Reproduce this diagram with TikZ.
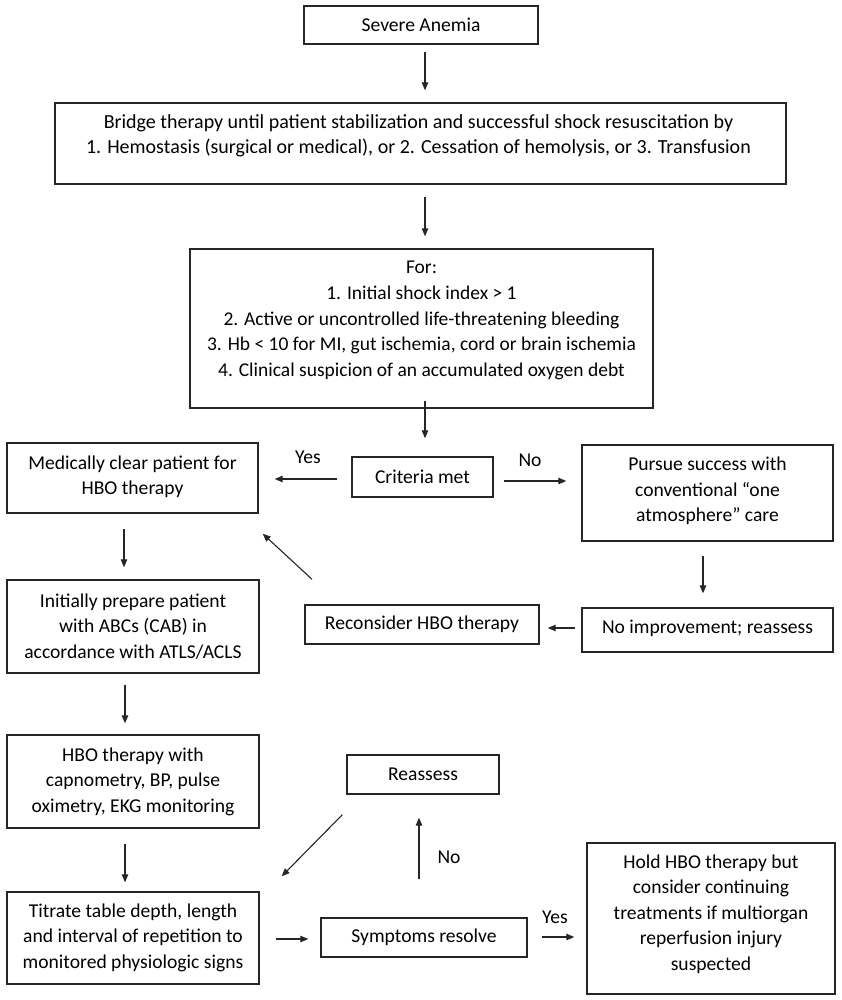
\documentclass[tikz,border=0pt]{standalone}
\usepackage{fontspec}
\setmainfont{Carlito}
\usetikzlibrary{arrows.meta,calc}
\begin{document}
\begin{tikzpicture}[x=1pt,y=-1pt,
  box/.style={draw=black!85, line width=1.4pt, inner sep=0pt, align=center},
  txt/.style={inner sep=0pt, align=center, font=\fontsize{19.6}{25.5}\selectfont},
  bigtxt/.style={inner sep=0pt, align=center, font=\fontsize{20}{25.2}\selectfont},
  fortxt/.style={inner sep=0pt, align=center, font=\fontsize{19.5}{25.7}\selectfont},
  lbl/.style={inner sep=0pt, font=\fontsize{19.6}{25.5}\selectfont},
  arr/.style={draw=black!85, line width=1.1pt, -{Triangle[length=8pt,width=6.5pt]}}]
\useasboundingbox[fill=white] (0,0) rectangle (841,1000);

% boxes
\node[box, minimum width=234pt, minimum height=38pt] (sev) at (421,25) {};
\node[txt] (sevt) at (sev) {Severe Anemia};

\node[box, minimum width=731pt, minimum height=81pt] (bridge) at (420.5,143.5) {};
\node[bigtxt] (bridget) at ($(bridge)+(-2,-8)$) {Bridge therapy until patient stabilization and successful shock resuscitation by\\1. Hemostasis (surgical or medical), or 2. Cessation of hemolysis, or 3. Transfusion};

\node[box, minimum width=463pt, minimum height=159pt] (forb) at (421.5,328.5) {};
\node[fortxt] (fort) at ($(forb)+(0,-8)$) {For:\\1. Initial shock index > 1\\2. Active or uncontrolled life-threatening bleeding\\3. Hb < 10 for MI, gut ischemia, cord or brain ischemia\\4. Clinical suspicion of an accumulated oxygen debt};

\node[box, minimum width=141pt, minimum height=40pt] (crit) at (422.5,477) {};
\node[txt] (critt) at (crit) {Criteria met};

\node[box, minimum width=251pt, minimum height=70pt] (med) at (132.5,478) {};
\node[txt] (medt) at ($(med)+(0,-1)$) {Medically clear patient for\\HBO therapy};

\node[box, minimum width=251pt, minimum height=96pt] (pursue) at (707.5,493) {};
\node[txt] (pursuet) at ($(pursue)+(0,-2)$) {Pursue success with\\conventional “one\\atmosphere” care};

\node[box, minimum width=251pt, minimum height=44pt] (noimp) at (707.5,630) {};
\node[txt] (noimpt) at ($(noimp)+(0,-2)$) {No improvement; reassess};

\node[box, minimum width=234pt, minimum height=39pt] (recon) at (422,624.5) {};
\node[txt] (recont) at (recon) {Reconsider HBO therapy};

\node[box, minimum width=252pt, minimum height=93pt] (init) at (133,626.5) {};
\node[txt] (initt) at (init) {Initially prepare patient\\with ABCs (CAB) in\\accordance with ATLS/ACLS};

\node[box, minimum width=252pt, minimum height=93pt] (hbo) at (133,781.5) {};
\node[txt] (hbot) at (hbo) {HBO therapy with\\capnometry, BP, pulse\\oximetry, EKG monitoring};

\node[box, minimum width=152pt, minimum height=39pt] (reas) at (423,774.5) {};
\node[txt] (reast) at (reas) {Reassess};

\node[box, minimum width=252pt, minimum height=92pt] (titr) at (133,938) {};
\node[txt] (titrt) at ($(titr)+(0,-0.5)$) {Titrate table depth, length\\and interval of repetition to\\monitored physiologic signs};

\node[box, minimum width=206pt, minimum height=39pt] (symp) at (424,937.5) {};
\node[txt] (sympt) at (symp) {Symptoms resolve};

\node[box, minimum width=248pt, minimum height=151pt] (hold) at (711,918.5) {};
\node[txt] (holdt) at ($(hold)+(0,-4.5)$) {Hold HBO therapy but\\consider continuing\\treatments if multiorgan\\reperfusion injury\\suspected};

% labels
\node[lbl] (yes1) at (308,457) {Yes};
\node[lbl] (no1) at (530,460) {No};
\node[lbl] (no2) at (449,857) {No};
\node[lbl] (yes2) at (555,917) {Yes};

% connectors
\draw[arr] ($(sev.south)+(4,7)$) -- ($(bridge.north)+(4.5,-12)$);
\draw[arr] ($(bridge.south)+(4.5,12)$) -- ($(forb.north)+(3.5,-12)$);
\draw[arr] ($(forb.south)+(3.5,-8)$) -- ($(crit.north)+(2.5,-18)$);
\draw[arr] ($(crit.west)+(-14,2)$) -- ($(med.east)+(16,1)$);
\draw[arr] ($(crit.east)+(10,4)$) -- ($(pursue.west)+(-15,-12)$);
\draw[arr] ($(med.south)+(-8.5,15)$) -- ($(init.north)+(-9,-12)$);
\draw[arr] ($(pursue.south)+(-4.5,14)$) -- ($(noimp.north)+(-4.5,-14)$);
\draw[arr] ($(noimp.west)+(-6,-2)$) -- ($(recon.east)+(8,3.5)$);
\draw[arr] ($(recon.north)+(-110,-25)$) -- ($(med.south east)+(4,20)$);
\draw[arr] ($(init.south)+(-8,11)$) -- ($(hbo.north)+(-8,-11)$);
\draw[arr] ($(hbo.south)+(-8,15)$) -- ($(titr.north)+(-8,-9)$);
\draw[arr] ($(reas.south west)+(-4,20)$) -- ($(titr.north east)+(22,-15)$);
\draw[arr] ($(titr.east)+(16,1)$) -- ($(symp.west)+(-12,1.5)$);
\draw[arr] ($(symp.north)+(-5,-38)$) -- ($(reas.south)+(-4,23)$);
\draw[arr] ($(symp.east)+(14,-0.5)$) -- ($(hold.west)+(-12,18.5)$);
\end{tikzpicture}
\end{document}
